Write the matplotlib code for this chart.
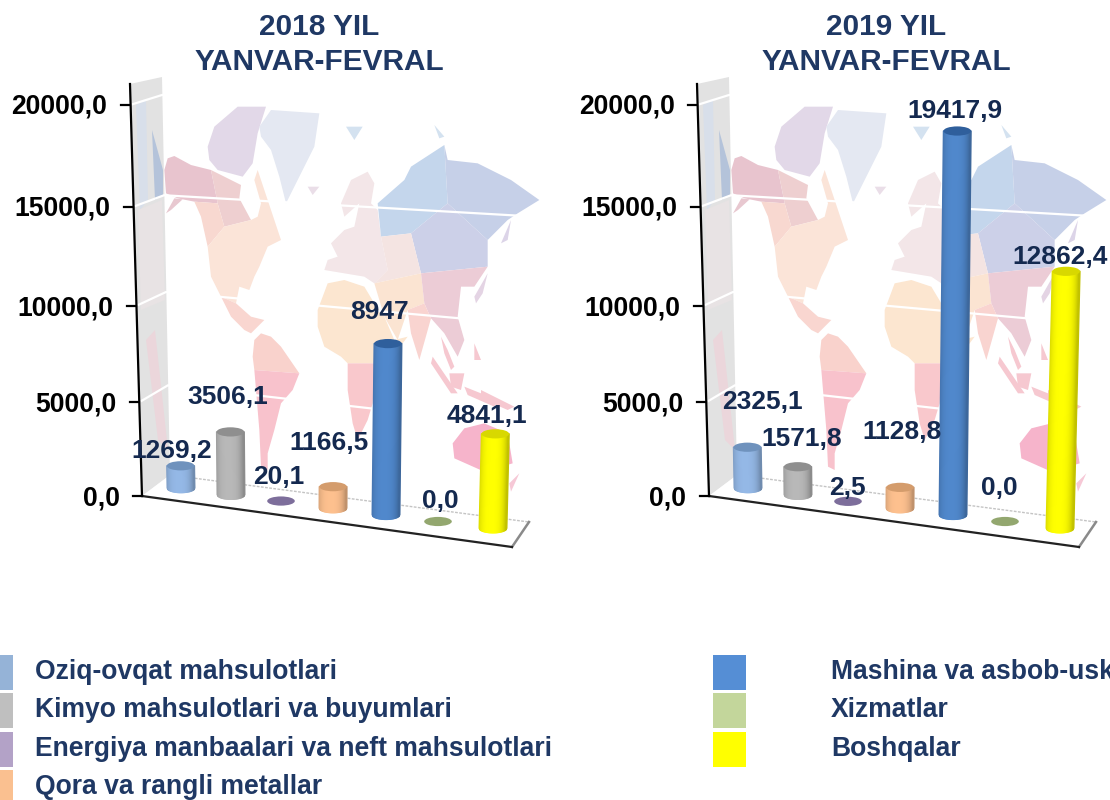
import numpy as np
import matplotlib
matplotlib.use("Agg")
from matplotlib import pyplot as plt
from matplotlib.patches import Polygon, Ellipse, Rectangle
from matplotlib.collections import PolyCollection

plt.rcParams['font.family'] = ['Liberation Sans', 'DejaVu Sans']

categories = ["Oziq-ovqat mahsulotlari", "Kimyo mahsulotlari va buyumlari",
              "Energiya manbaalari va neft mahsulotlari", "Qora va rangli metallar",
              "Mashina va asbob-uskunalar", "Xizmatlar", "Boshqalar"]
values_2018 = [1269.2, 3506.1, 20.1, 1166.5, 8947, 0.0, 4841.1]
values_2019 = [2325.1, 1571.8, 2.5, 1128.8, 19417.9, 0.0, 12862.4]
labels_2018 = ["1269,2", "3506,1", "20,1", "1166,5", "8947", "0,0", "4841,1"]
labels_2019 = ["2325,1", "1571,8", "2,5", "1128,8", "19417,9", "0,0", "12862,4"]
tick_values = [0, 5000, 10000, 15000, 20000]
tick_labels = ["0,0", "5000,0", "10000,0", "15000,0", "20000,0"]

legend_colors = ['#95b3d7', '#bfbfbf', '#b3a2c7', '#fac090', '#558ed5', '#c3d69b', '#ffff00']
body_colors = ['#94b8e6', '#b8b8b8', '#8f80ad', '#fdc08e', '#5088cc', '#a3b87c', '#ffff00']
top_colors = ['#6f92bd', '#8f8f8f', '#7d6e9b', '#d49c6c', '#2f5f9c', '#93a76f', '#d8d800']

# label centres relative to the chart
label_pos_2018 = [(172, 451), (228, 397), (279, 477), (329, 443), (379, 312), (440, 501), (487, 416)]
label_pos_2019 = [(195, 402), (235, 439), (280, 488), (335, 432), (388, 111), (432, 488), (493, 257)]

bar_x = [181, 231, 281, 333, 386, 438, 493]
NAVY = '#14294f'
SHIFT = 567

# rough low-poly world map, in units of the zoomed crop
map_parts = [
    ('#e8c4ce', [(160, 300), (170, 265), (190, 258), (240, 285), (300, 300), (320, 400), (250, 395), (200, 385), (165, 370)]),
    ('#e8c8d0', [(165, 430), (190, 385), (215, 388), (180, 420)]),
    ('#eecfd0', [(300, 300), (390, 345), (385, 385), (420, 450), (340, 470), (320, 400)]),
    ('#f8d8d0', [(250, 395), (320, 400), (340, 470), (290, 530), (270, 440)]),
    ('#fbe4d8', [(290, 530), (340, 470), (420, 450), (440, 440), (450, 400), (430, 330), (440, 300), (470, 390), (490, 450), (510, 510), (470, 530), (445, 590), (430, 620), (415, 660), (385, 650), (375, 700), (330, 680), (300, 620)]),
    ('#f9d6d0', [(330, 680), (375, 700), (420, 740), (460, 750), (420, 790), (400, 780), (360, 740)]),
    ('#e2d8e8', [(290, 230), (310, 170), (380, 110), (465, 110), (440, 190), (425, 280), (395, 320), (320, 300), (295, 270)]),
    ('#e4e8f2', [(445, 170), (480, 120), (625, 130), (610, 230), (570, 310), (525, 400), (505, 320), (480, 240), (450, 200)]),
    ('#f9d2cc', [(430, 810), (450, 790), (480, 800), (510, 830), (565, 910), (430, 900), (425, 860)]),
    ('#f8c2cc', [(430, 900), (565, 910), (545, 960), (510, 1000), (490, 1080), (470, 1150), (470, 1200), (450, 1190), (445, 1080)]),
    ('#fce6d0', [(650, 640), (700, 630), (760, 650), (790, 700), (820, 740), (850, 810), (890, 800), (830, 880), (710, 880), (690, 860), (640, 830), (620, 770), (620, 720)]),
    ('#f9c8cc', [(710, 880), (830, 880), (790, 930), (785, 1000), (770, 1050), (740, 1110), (725, 1060), (710, 960)]),
    ('#f3e6e8', [(640, 600), (650, 570), (680, 560), (660, 520), (700, 480), (730, 470), (745, 400), (700, 440), (690, 400), (720, 330), (770, 305), (790, 340), (780, 400), (800, 420), (810, 500), (830, 600), (790, 640), (760, 620), (700, 610)]),
    ('#c4d6ec', [(800, 400), (880, 330), (900, 290), (1000, 225), (1010, 400), (900, 490), (810, 500)]),
    ('#c6d0e8', [(1000, 225), (1010, 270), (1100, 280), (1200, 330), (1285, 390), (1220, 430), (1190, 450), (1130, 510), (1010, 400)]),
    ('#ccd0e8', [(900, 490), (1010, 400), (1130, 510), (1130, 590), (930, 610)]),
    ('#f4e4e2', [(810, 500), (900, 490), (930, 610), (790, 640), (830, 600)]),
    ('#fbe4d2', [(790, 640), (930, 610), (940, 700), (890, 720), (870, 780), (860, 810), (820, 740)]),
    ('#ecccd6', [(930, 610), (1130, 590), (1090, 650), (1050, 650), (1040, 740), (1060, 810), (1040, 860), (1000, 790), (960, 745), (940, 700)]),
    ('#f9d4d0', [(890, 720), (940, 700), (960, 745), (925, 870), (900, 790)]),
    ('#f6c8d0', [(990, 800), (1010, 840), (1030, 890), (1020, 900), (1000, 850)]),
    ('#f6c8d0', [(965, 860), (1040, 970), (1020, 970), (960, 880)]),
    ('#f6c8d0', [(1015, 910), (1060, 910), (1050, 960), (1020, 950)]),
    ('#f6c8d0', [(1060, 950), (1160, 990), (1150, 1010), (1070, 975)]),
    ('#f6c8d0', [(1090, 820), (1110, 870), (1090, 870)]),
    ('#f6c8d0', [(1110, 960), (1210, 1010), (1190, 1020), (1110, 985)]),
    ('#e4d4e4', [(1090, 680), (1130, 610), (1115, 670), (1095, 700)]),
    ('#dcd4e8', [(1170, 520), (1200, 450), (1190, 510)]),
    ('#f6b4cb', [(1025, 1120), (1060, 1075), (1120, 1060), (1190, 1090), (1205, 1180), (1120, 1205), (1030, 1165)]),
    ('#f6c8d6', [(1195, 1240), (1225, 1210), (1200, 1265)]),
    ('#d4e2f0', [(705, 170), (755, 170), (730, 210)]),
    ('#d4e2f0', [(970, 165), (1000, 200), (985, 205)]),
    ('#eadee8', [(590, 350), (625, 350), (605, 375)]),
]


def tick_y(v):
    return 496 - 0.01845 * v - 5.5e-8 * v * v


def corner_y(v):
    return 475 - 0.0176 * v - 7e-8 * v * v


def right_y(v):
    return 522 - 0.0184 * v - 1.3e-7 * v * v


def bar_point(i, v):
    # floor runs down to the right, heights grow towards the viewer
    k = 0.0174 + 0.0003 * i + 6e-8 * v
    lean = -0.0003 + 0.00013 * i
    return bar_x[i] + lean * v, 488 + 6.7 * i - k * v


def draw_cylinder(ax, i, v, dx):
    x0, y0 = bar_point(i, 0)
    x1, y1 = bar_point(i, v)
    x0, x1 = x0 + dx, x1 + dx
    w = 13.8
    h = 4.6
    if v > 100:
        edges = np.linspace(-1, 1, 29)
        strips = []
        shades = []
        base = np.array(matplotlib.colors.to_rgb(body_colors[i]))
        for a, b in zip(edges[:-1], edges[1:]):
            ya = y0 + h * np.sqrt(max(0, 1 - a * a))
            yb = y0 + h * np.sqrt(max(0, 1 - b * b))
            strips.append([(x0 + a * w, ya), (x0 + b * w, yb), (x1 + b * w, y1), (x1 + a * w, y1)])
            u = (a + b) / 2
            shades.append(np.clip(base * (0.8 + 0.2 * (1 - abs(u + 0.1) ** 3)), 0, 1))
        ax.add_collection(PolyCollection(strips, facecolors=shades, edgecolors='face', linewidths=1.0, zorder=5))
    ax.add_patch(Ellipse((x1, y1), 2 * w, 2 * h, facecolor=top_colors[i], edgecolor='none', zorder=6))


def draw_chart(ax, title, values, labels, label_pos, dx):
    # back wall map
    for color, pts in map_parts:
        pts = [(x / 3 + 110 + dx + 1, y / 3 + 70) for x, y in pts]
        ax.add_patch(Polygon(pts, closed=True, facecolor=color, edgecolor='none', zorder=1))

    # side wall
    wall = [(130 + dx, 84), (162 + dx, 77), (170 + dx, 475), (142 + dx, 496)]
    ax.add_patch(Polygon(wall, closed=True, facecolor='#e2e2e2', edgecolor='none', zorder=1))
    ax.add_patch(Polygon([(136 + dx, 105), (146 + dx, 100), (148 + dx, 200), (140 + dx, 210)], facecolor='#d8dfea', edgecolor='none', zorder=1))
    ax.add_patch(Polygon([(152 + dx, 130), (163 + dx, 170), (163 + dx, 195), (155 + dx, 200)], facecolor='#b4c3da', edgecolor='none', zorder=1))
    ax.add_patch(Polygon([(138 + dx, 210), (162 + dx, 200), (165 + dx, 300), (141 + dx, 310)], facecolor='#e8e3e4', edgecolor='none', zorder=1))
    ax.add_patch(Polygon([(146 + dx, 340), (155 + dx, 330), (168 + dx, 450), (158 + dx, 440)], facecolor='#ebd6db', edgecolor='none', zorder=1))

    # gridlines
    for v in tick_values[1:]:
        xa = 142 - 12 * v / 20000 + dx
        xb = 170 - 8 * v / 20000 + dx
        xc = 529 + 11 * v / 20000 + dx
        ax.plot([xa, xb, xc], [tick_y(v), corner_y(v), right_y(v)], color='white', lw=1.6, zorder=2)

    # floor
    ax.add_patch(Polygon([(142 + dx, 496), (170 + dx, 475), (529 + dx, 522), (512 + dx, 547)], facecolor='white', alpha=0.7, edgecolor='none', zorder=2))
    ax.plot([170 + dx, 529 + dx], [475, 522], color='#c4c4c4', lw=1.0, ls=(0, (2, 1)), zorder=2)
    ax.plot([529 + dx, 512 + dx], [522, 547], color='#8a8a8a', lw=1.8, zorder=3)
    ax.plot([142 + dx, 512 + dx], [496, 547], color='#222222', lw=1.6, zorder=3)

    # axis and ticks
    ax.plot([130 + dx, 142 + dx], [84, 496], color='black', lw=1.6, zorder=4)
    for v, s in zip(tick_values, tick_labels):
        xa = 142 - 12 * v / 20000 + dx
        ax.plot([xa - 9, xa], [tick_y(v), tick_y(v)], color='black', lw=1.6, zorder=4)
        ax.text(xa - 22.5, tick_y(v) + 2, s, ha='right', va='center', fontsize=19.1,
                fontweight='bold', color='black', zorder=8)

    # bars, back to front
    for i, v in enumerate(values):
        draw_cylinder(ax, i, v, dx)

    for s, (lx, ly) in zip(labels, label_pos):
        ax.text(lx + dx, ly, s, ha='center', va='center', fontsize=19,
                fontweight='bold', color=NAVY, zorder=9)

    ax.text(319 + dx, 44.5, title, ha='center', va='center', fontsize=21.4, fontweight='bold',
            color='#1f3864', linespacing=1.32, zorder=9)


fig = plt.figure(figsize=(11.1, 8), dpi=100)
ax = fig.add_axes([0, 0, 1, 1])
ax.set_xlim(0, 1110)
ax.set_ylim(800, 0)
ax.axis('off')

draw_chart(ax, "2018 YIL\nYANVAR-FEVRAL", values_2018, labels_2018, label_pos_2018, 0)
draw_chart(ax, "2019 YIL\nYANVAR-FEVRAL", values_2019, labels_2019, label_pos_2019, SHIFT)

# legend, two columns cut by the figure edge
legend_y = [672, 710, 749, 787, 672, 710, 749]
for i, name in enumerate(categories):
    if i < 4:
        sx, tx = -20, 35
    else:
        sx, tx = 713, 831
    ax.add_patch(Rectangle((sx, legend_y[i] - 17.5), 33, 35, facecolor=legend_colors[i], edgecolor='none', zorder=5))
    ax.text(tx, legend_y[i], name, ha='left', va='center', fontsize=19.1,
            fontweight='bold', color='#1f3864', zorder=9)

fig.savefig("out.png", dpi=100)
